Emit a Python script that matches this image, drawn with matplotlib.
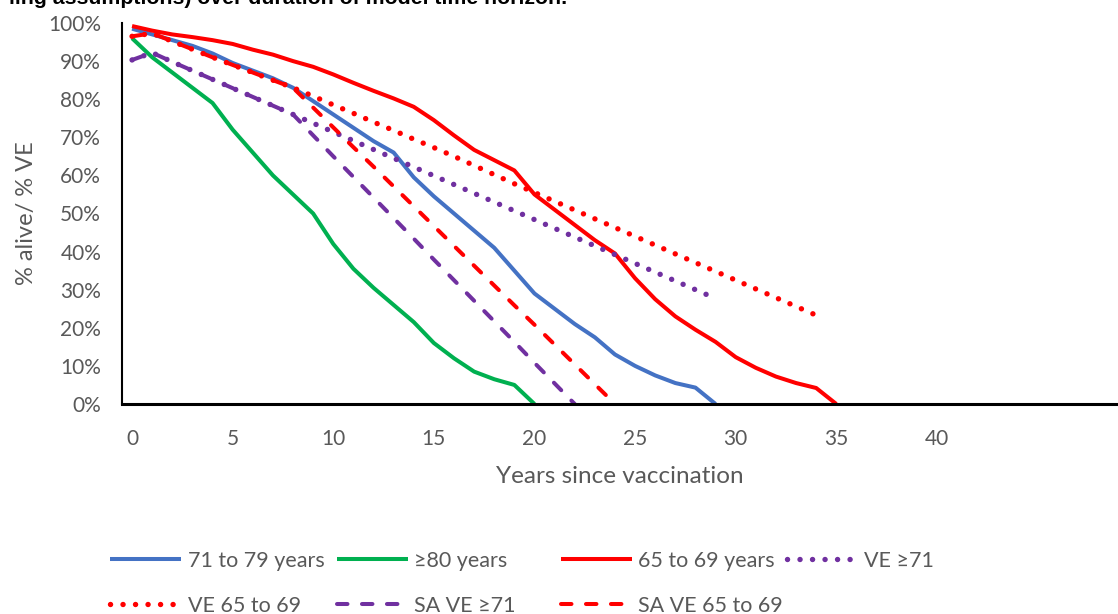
import matplotlib.pyplot as plt
from matplotlib.ticker import PercentFormatter, MultipleLocator

plt.rcParams["font.family"] = ["Lato", "DejaVu Sans"]

# % alive / % VE by years since vaccination (each series starts at year 0)
alive_71_79 = [98.5, 97, 95.5, 94, 92, 89.5, 87.5, 85.5, 83, 79.5, 76, 72.5, 69, 66,
               59.5, 54.5, 50, 45.5, 41, 35, 29, 25, 21, 17.5, 13, 10, 7.5, 5.5, 4.3, 0]
alive_80 = [96, 91, 87, 83, 79, 72, 66, 60, 55, 50, 42, 35.5, 30.5, 26, 21.5, 16, 12,
            8.5, 6.5, 5, 0]
alive_65_69 = [99.2, 98, 97, 96.3, 95.5, 94.5, 93, 91.7, 90, 88.5, 86.5, 84.3, 82.2,
               80.2, 78, 74.5, 70.5, 66.7, 64, 61.3, 55, 51, 47, 43, 39.5, 33, 27.5,
               23, 19.5, 16.3, 12.3, 9.5, 7.2, 5.5, 4.2, 0]
ve_71 = [90.3, 92.2, 89.8, 87.5, 85.2, 82.9, 80.6, 78.3, 76, 73.7, 71.4, 69.1, 66.8,
         64.5, 62.2, 59.9, 57.6, 55.3, 53, 50.7, 48.4, 46.1, 43.8, 41.5, 39.2, 36.9,
         34.6, 32.3, 30, 27.7]
ve_65_69 = [96.5, 97.3, 95.2, 93.1, 91, 89, 87, 85, 83, 80.8, 78.5, 76.3, 74, 71.8,
            69.5, 67.3, 65, 62.6, 60.2, 57.8, 55.5, 53.2, 50.9, 48.6, 46.3, 44, 41.7,
            39.4, 37.1, 34.8, 32.5, 30.2, 27.9, 25.6, 23.3]
sa_ve_71 = [90.3, 92.2, 89.8, 87.5, 85.2, 82.9, 80.6, 78.3, 76, 70.5, 65, 59.6, 54.2,
            48.8, 43.4, 37.9, 32.5, 27.1, 21.7, 16.3, 10.8, 5.4, 0]
sa_ve_65_69 = [96.5, 97.3, 95.2, 93.1, 91, 89, 87, 85, 83, 77.8, 72.6, 67.4, 62.3,
               57.1, 51.9, 46.7, 41.5, 36.3, 31.1, 25.9, 20.8, 15.6, 10.4, 5.2, 0]

BLUE, GREEN, RED, PURPLE = "#4472C4", "#00B050", "#FF0000", "#7030A0"
GREY = "#595959"
DOT = (0, (0.01, 2.3))
DASH = (0, (2.6, 3.6))

# (label, values, colour, linestyle, linewidth)
series = [
    ("71 to 79 years", alive_71_79, BLUE, "-", 2.9),
    ("\u226580 years", alive_80, GREEN, "-", 2.9),
    ("65 to 69 years", alive_65_69, RED, "-", 2.9),
    ("VE \u226571", ve_71, PURPLE, DOT, 3.9),
    ("VE 65 to 69", ve_65_69, RED, DOT, 3.9),
    ("SA VE \u226571", sa_ve_71, PURPLE, DASH, 2.9),
    ("SA VE 65 to 69", sa_ve_65_69, RED, DASH, 2.9),
]

fig = plt.figure(figsize=(11.18, 6.14), dpi=100)
ax = fig.add_axes([122 / 1118, 1 - 404 / 614, 1 - 122 / 1118, (404 - 23) / 614])

handles = []
for label, vals, color, ls, lw in series:
    (h,) = ax.plot(range(len(vals)), vals, color=color, lw=lw, ls=ls,
                   dash_capstyle="round", solid_capstyle="butt", label=label)
    handles.append(h)

ax.set_xlim(-0.5, 49)
ax.set_ylim(0, 100)
ax.set_xticks(range(0, 41, 5))
ax.yaxis.set_major_locator(MultipleLocator(10))
ax.yaxis.set_major_formatter(PercentFormatter(100, decimals=0))
ax.tick_params(length=0, labelsize=15, labelcolor=GREY)
ax.tick_params(axis="y", pad=15)
ax.tick_params(axis="x", pad=18)
for s in ("top", "right"):
    ax.spines[s].set_visible(False)
ax.spines["left"].set_linewidth(1.5)
ax.spines["bottom"].set_linewidth(2.2)

ax.set_xlabel("Years since vaccination", fontsize=17.5, color=GREY, labelpad=12)
ax.set_ylabel("% alive/ % VE", fontsize=17, color=GREY, labelpad=8)

fig.text(567 / 1118, 1 - 3.5 / 614,
         "ling assumptions) over duration of model time horizon.",
         ha="right", va="baseline", fontsize=15.3, fontweight="bold",
         family="Liberation Sans")

# legend laid out as four equal-width columns, rows read left to right
col_x = [110, 337, 561, 787]
cols = [[0, 4], [1, 5], [2, 6], [3]]
for x, idx in zip(col_x, cols):
    fig.legend([handles[i] for i in idx], [series[i][0] for i in idx],
               loc="upper left", bbox_to_anchor=(x / 1118, 1 - 551 / 614),
               frameon=False, fontsize=15.5, labelcolor=GREY, handlelength=3.3,
               handletextpad=0.3, labelspacing=1.15, borderpad=0, borderaxespad=0)

fig.savefig("out.png", dpi=100)
